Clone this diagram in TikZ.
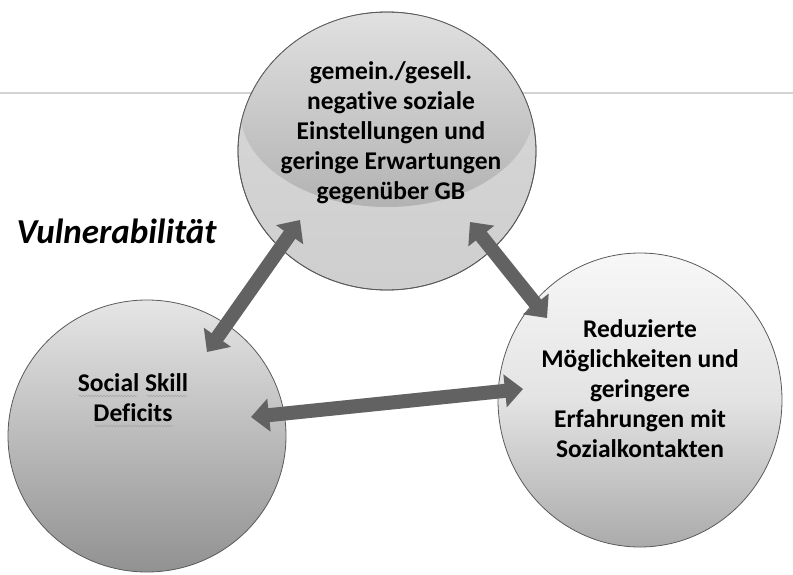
\documentclass[tikz,border=0pt]{standalone}
\usepackage{fontspec}
\setmainfont{Carlito}[Ligatures=NoCommon]
\usetikzlibrary{arrows.meta,shapes.geometric,decorations.pathmorphing,positioning}

\definecolor{rimgray}{HTML}{5A5A5A}
\definecolor{arrowgray}{HTML}{626262}
\definecolor{rulegray}{HTML}{D4D4D4}

\tikzset{
  bubble/.style={ellipse, draw=rimgray, line width=0.8pt, inner sep=0pt},
  caption/.style={font=\bfseries\fontsize{25.5}{30}\selectfont, align=center, text=black},
  link/.style={{Triangle[length=18pt,width=32pt]}-{Triangle[length=18pt,width=32pt]},
    line width=14pt, draw=arrowgray},
  linkshadow/.style={link, draw=black!30, opacity=0.35},
  spellmark/.style={draw=gray!70, line width=0.5pt,
    decorate, decoration={snake, amplitude=0.9pt, segment length=3pt}}
}

\begin{document}
\begin{tikzpicture}[x=1pt,y=-1pt]
  \useasboundingbox (0,0) rectangle (793,575);
  % slide rule line
  \draw[rulegray, line width=1.5pt] (0,93) -- (793,93);

  % the three spheres
  \node[bubble, minimum width=298pt, minimum height=278pt,
        top color=black!15, bottom color=black!19] (soc) at (387,151) {};
  \begin{scope}
    \clip (387,151) ellipse[x radius=149pt, y radius=139pt];
    \shade[top color=black!12, bottom color=black!30] (387,110) ellipse[x radius=147pt, y radius=97pt];
  \end{scope}
  \draw[rimgray, line width=0.8pt] (soc.center) ellipse[x radius=149pt, y radius=139pt];
  \node[bubble, minimum width=278pt, minimum height=272pt,
        top color=black!10, bottom color=black!43] (skill) at (147,436) {};
  \node[bubble, minimum width=284pt, minimum height=294pt,
        top color=black!3, bottom color=black!33, middle color=black!11] (chance) at (640,400) {};

  % texts
  \node[anchor=base west, font=\bfseries\itshape\fontsize{35}{42}\selectfont] (vuln) at (13,243) {Vulnerabilität};
  \node[caption] (soctext) at (391,133) {gemein./gesell.\\negative soziale\\Einstellungen und\\geringe Erwartungen\\gegenüber GB};
  \node[caption] (skilltext) at (133,398) {Social Skill\\Deficits};
  \node[caption] (chancetext) at (640,389) {Reduzierte\\Möglichkeiten und\\geringere\\Erfahrungen mit\\Sozialkontakten};

  % spell check marks
  \draw[spellmark] (79,396) -- (137,396);
  \draw[spellmark] (147,396) -- (187,396);
  \draw[spellmark] (95,426) -- (173,426);

  % arrow ends
  \coordinate (socL) at (300,220);
  \coordinate (skillT) at (207,352);
  \coordinate (socR) at (470,222);
  \coordinate (chanceT) at (547,318);
  \coordinate (skillR) at (251,417);
  \coordinate (chanceL) at (523,389);

  \begin{scope}[shift={(2,3)}]
    \draw[linkshadow] (socL) -- (skillT);
    \draw[linkshadow] (socR) -- (chanceT);
    \draw[linkshadow] (skillR) -- (chanceL);
  \end{scope}
  \draw[link] (socL) -- (skillT);
  \draw[link] (socR) -- (chanceT);
  \draw[link] (skillR) -- (chanceL);
\end{tikzpicture}
\end{document}
